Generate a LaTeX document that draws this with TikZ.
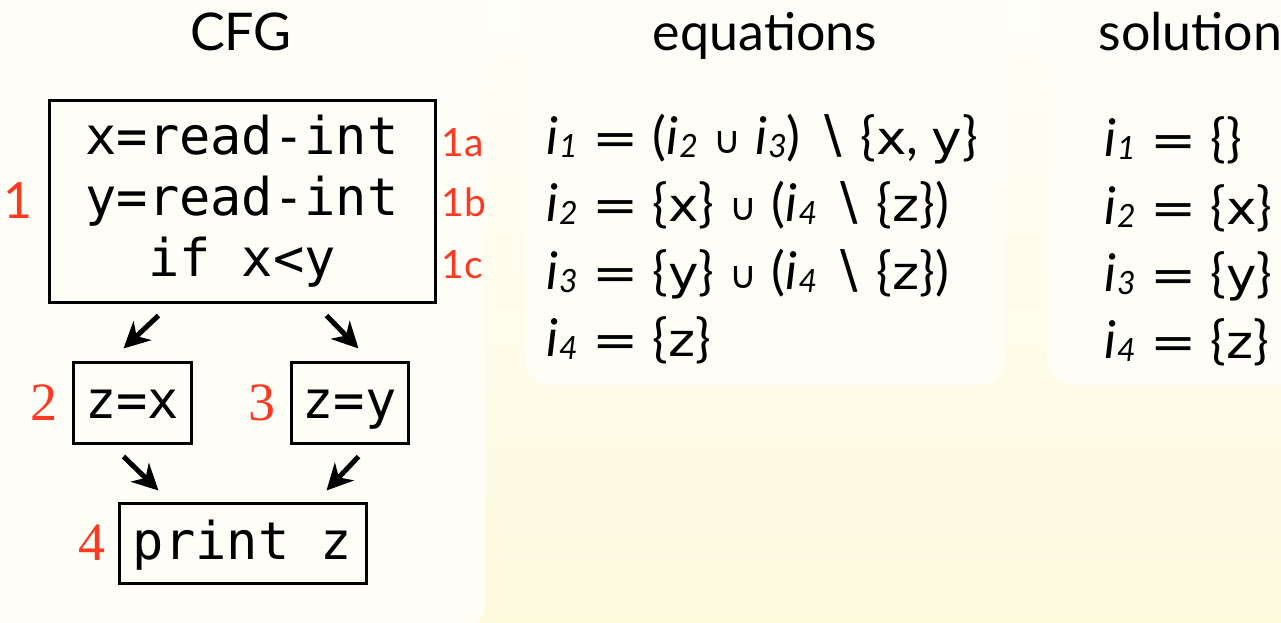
\documentclass[tikz,border=0pt]{standalone}
\usepackage{graphicx}
\usepackage{fontspec}
\setmainfont{Lato}
\newfontfamily\codefont{DejaVu Sans Mono}
\newfontfamily\varfont{DejaVu Sans}
\newfontfamily\numfont{Liberation Serif}
\usetikzlibrary{positioning,arrows.meta}

\definecolor{papertop}{RGB}{255,254,248}
\definecolor{paperlow}{RGB}{254,250,222}
\definecolor{panelfill}{RGB}{255,254,246}
\definecolor{tagred}{RGB}{252,58,34}

% one inference variable i_n and one set element
\newcommand{\iv}[1]{\textit{i}\kern1pt\raisebox{-3pt}{\fontsize{32}{32}\selectfont\itshape #1}}
\newcommand{\el}[1]{\scalebox{1.12}[1]{\varfont\fontsize{46}{52}\selectfont #1}}
\newcommand{\eq}{\kern1pt\scalebox{1.2}[1]{\varfont\fontsize{46}{52}\selectfont =}\kern1pt}
\newcommand{\setunion}{\kern2pt{\varfont\fontsize{38}{40}\selectfont\raisebox{1pt}{∪}}\kern1pt}
\newcommand{\smin}{{\varfont ∖}}

\tikzset{
  panel/.style={fill=panelfill, rounded corners=26pt},
  block/.style={draw, line width=3pt, inner sep=0pt,
    font=\codefont\fontsize{52}{61}\selectfont},
  small block/.style={block, text height=40pt, text depth=8pt},
  flow/.style={line width=5pt,
    -{Stealth[length=26pt,width=26pt,inset=8pt]}},
  head/.style={font=\fontsize{52}{60}\selectfont, anchor=base},
  eqn/.style={font=\fontsize{52}{60}\selectfont, anchor=base west, inner sep=0pt},
  tag/.style={text=tagred, inner sep=0pt},
  subtag/.style={tag, font=\fontsize{39}{40}\selectfont, anchor=base west},
  numtag/.style={tag, font=\numfont\fontsize{54}{54}\selectfont}
}

\begin{document}
\begin{tikzpicture}[x=1pt, y=-1pt]
% background and panels
\shade[top color=papertop, bottom color=paperlow] (0,0) rectangle (1281,622);
\useasboundingbox (0,0) rectangle (1281,622);
\fill[panel] (-40,-30) rectangle (485,630);
\fill[panel] (525,-30) rectangle (1005,385);
\fill[panel] (1047,-30) rectangle (1330,385);

% headings
\node[head] (cfg) at (241,50) {CFG};
\node[head] (eqs) at (765,50) {equations};
\node[head, anchor=base west] (sol) at (1095,50) {solution};

% control flow graph
\node[block, minimum width=386pt, minimum height=202pt, align=center] (b1) at (242,201)
  {x=read-int\\y=read-int\\if x<y};
\node[small block, minimum width=118pt, minimum height=81pt] (b2) at (132,402.5) {z=x};
\node[small block, minimum width=117pt, minimum height=81pt] (b3) at (349.5,402.5) {z=y};
\node[small block, minimum width=247pt, minimum height=80pt] (b4) at (242.5,543) {print z};

\draw[flow] ([xshift=111pt,yshift=-12pt]b1.south west) -- ([xshift=52pt,yshift=12pt]b2.north west);
\draw[flow] ([xshift=-110pt,yshift=-12pt]b1.south east) -- ([xshift=69pt,yshift=12pt]b3.north west);
\draw[flow] ([xshift=52pt,yshift=-12pt]b2.south west) -- ([xshift=41pt,yshift=11pt]b4.north west);
\draw[flow] ([xshift=69pt,yshift=-12pt]b3.south west) -- ([xshift=-41pt,yshift=11pt]b4.north east);

% block numbers
\node[tag, font=\fontsize{50}{50}\selectfont, left=15pt of b1] (n1) {1};
\node[numtag, left=14pt of b2] (n2) {2};
\node[numtag, left=14pt of b3] (n3) {3};
\node[numtag, left=12pt of b4] (n4) {4};
\node[subtag] (n1a) at ([xshift=5pt,yshift=-58pt]b1.north east) {1a};
\node[subtag] (n1b) at ([xshift=5pt,yshift=-118pt]b1.north east) {1b};
\node[subtag] (n1c) at ([xshift=5pt,yshift=-180pt]b1.north east) {1c};

% equations
\node[eqn] (e1) at (546,154) {\iv{1} \eq{} (\iv{2} \setunion{} \iv{3}) \smin{} \{\el{x}, \el{y}\}};
\node[eqn] (e2) at (546,221) {\iv{2} \eq{} \{\el{x}\} \setunion{} (\iv{4} \smin{} \{\el{z}\})};
\node[eqn] (e3) at (546,289) {\iv{3} \eq{} \{\el{y}\} \setunion{} (\iv{4} \smin{} \{\el{z}\})};
\node[eqn] (e4) at (546,356) {\iv{4} \eq{} \{\el{z}\}};

% solution
\node[eqn] (s1) at (1104,156) {\iv{1} \eq{} \{\}};
\node[eqn] (s2) at (1104,224) {\iv{2} \eq{} \{\el{x}\}};
\node[eqn] (s3) at (1104,291) {\iv{3} \eq{} \{\el{y}\}};
\node[eqn] (s4) at (1104,358) {\iv{4} \eq{} \{\el{z}\}};
\end{tikzpicture}
\end{document}
